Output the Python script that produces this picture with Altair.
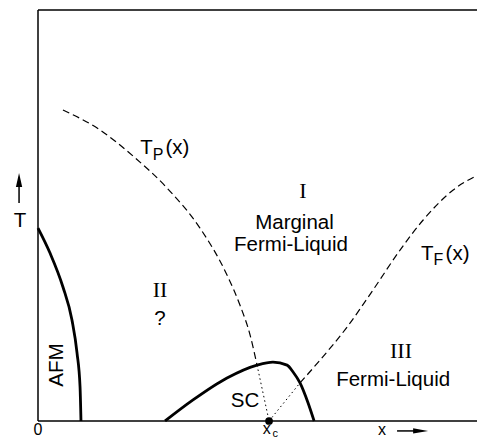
import altair as alt
import pandas as pd

# ---- data (x in units of x_c, T in the same length units) ----
X_MAX = 1.900   # right edge of the drawing
T_MAX = 1.779   # top edge of the drawing

afm_x = [0.0, 0.052, 0.108, 0.147, 0.169, 0.182, 0.186]
afm_T = [0.835, 0.727, 0.580, 0.437, 0.294, 0.147, 0.0]

sc_x = [0.550, 0.671, 0.818, 0.948, 1.017, 1.078, 1.104, 1.134, 1.169, 1.195]
sc_T = [0.0, 0.091, 0.186, 0.242, 0.255, 0.242, 0.212, 0.165, 0.078, 0.0]

tp_x = [0.108, 0.268, 0.411, 0.558, 0.701, 0.818, 0.874, 0.918, 0.948]
tp_T = [1.346, 1.260, 1.147, 1.009, 0.835, 0.632, 0.502, 0.372, 0.242]

tf_x = [1.134, 1.221, 1.338, 1.450, 1.567, 1.667, 1.797, 1.935]
tf_T = [0.165, 0.264, 0.407, 0.567, 0.740, 0.870, 1.000, 1.078]

x_c = 1.0

# annotation labels: text, x, T (baseline), align
sans_labels = [
    ("Marginal", 1.110, 0.829, "center"),
    ("Fermi-Liquid", 1.095, 0.734, "center"),
    ("Fermi-Liquid", 1.537, 0.152, "center"),
    ("?", 0.528, 0.416, "center"),
    ("SC", 0.896, 0.061, "center"),
    ("T", -0.078, 0.840, "center"),
    ("T", 0.442, 1.155, "left"),
    ("(x)", 0.552, 1.155, "left"),
    ("T", 1.658, 0.697, "left"),
    ("(x)", 1.764, 0.697, "left"),
]
bottom_labels = [
    ("0", 0.0, -0.061, "center"),
    ("x", 0.990, -0.056, "center"),
    ("x", 1.489, -0.061, "center"),
]
sub_labels = [
    ("P", 0.497, 1.130, "left"),
    ("F", 1.712, 0.675, "left"),
]
sub_bottom = [("c", 1.015, -0.071, "left")]
serif_labels = [
    ("I", 1.147, 0.965, "center"),
    ("II", 0.528, 0.537, "center"),
    ("III", 1.571, 0.273, "center"),
]
afm_label = [("AFM", 0.108, 0.242, "center")]

xs = alt.Scale(domain=[0, X_MAX], nice=False, zero=False)
ys = alt.Scale(domain=[0, T_MAX], nice=False, zero=False)
X = lambda: alt.X("x:Q", scale=xs, axis=None)
Y = lambda: alt.Y("T:Q", scale=ys, axis=None)


def curve(xv, tv, width, dash=None):
    df = pd.DataFrame({"x": xv, "T": tv})
    kw = dict(color="black", strokeWidth=width, interpolate="monotone")
    if dash:
        kw["strokeDash"] = dash
    return alt.Chart(df).mark_line(**kw).encode(x=X(), y=Y())


def texts(rows, font, size, angle=0):
    layers = []
    for al in ["left", "center", "right"]:
        sub = [r[:3] for r in rows if r[3] == al]
        if not sub:
            continue
        df = pd.DataFrame(sub, columns=["text", "x", "T"])
        kw = dict(font=font, fontSize=size, color="black", align=al, baseline="alphabetic")
        if angle:
            kw["angle"] = angle
        layers.append(alt.Chart(df).mark_text(**kw).encode(x=X(), y=Y(), text="text:N"))
    return layers


frame = pd.DataFrame({
    "x": [0, 0, 0], "x2": [X_MAX, 0, X_MAX],
    "T": [T_MAX, 0, 0], "T2": [T_MAX, T_MAX, 0],
})
frame_layer = alt.Chart(frame).mark_rule(color="black", strokeWidth=1.5).encode(
    x=X(), x2="x2:Q", y=Y(), y2="T2:Q")

dotted1 = curve([tp_x[-1], x_c], [tp_T[-1], 0.0], 1.0, [1.5, 3])
dotted2 = curve([x_c, tf_x[0]], [0.0, tf_T[0]], 1.0, [1.5, 3])

dot = alt.Chart(pd.DataFrame({"x": [x_c], "T": [0.0]})).mark_circle(
    color="black", size=60, opacity=1).encode(x=X(), y=Y())

# arrows (T axis arrow up, x axis arrow right)
shafts = pd.DataFrame({"x": [-0.082, 1.554], "x2": [-0.082, 1.63],
                       "T": [0.944, -0.043], "T2": [1.05, -0.043]})
shaft_layer = alt.Chart(shafts).mark_rule(color="black", strokeWidth=1.5).encode(
    x=X(), x2="x2:Q", y=Y(), y2="T2:Q")
head_up = alt.Chart(pd.DataFrame({"x": [-0.082], "T": [1.043]})).mark_point(
    shape="M0,-1L0.45,1L-0.45,1Z", filled=True, color="black", opacity=1,
    size=196, strokeWidth=0).encode(x=X(), y=Y())
head_right = alt.Chart(pd.DataFrame({"x": [1.656], "T": [-0.043]})).mark_point(
    shape="M1,0L-1,-0.35L-1,0.35Z", filled=True, color="black", opacity=1,
    size=225, strokeWidth=0).encode(x=X(), y=Y())

layers = [
    frame_layer,
    curve(tp_x, tp_T, 1.2, [7, 4]),
    curve(tf_x, tf_T, 1.2, [7, 4]),
    dotted1, dotted2,
    curve(afm_x, afm_T, 2.8),
    curve(sc_x, sc_T, 2.8),
    dot, shaft_layer, head_up, head_right,
]
layers += texts(sans_labels, "Liberation Sans", 20.5)
layers += texts(bottom_labels, "Liberation Sans", 16)
layers += texts(sub_labels, "Liberation Sans", 16)
layers += texts(sub_bottom, "Liberation Sans", 11)
layers += texts(serif_labels, "Liberation Serif", 22)
layers += texts(afm_label, "Liberation Sans", 20.5, angle=270)

chart = alt.layer(*layers).properties(
    width=439, height=411,
    autosize=alt.AutoSizeParams(type="none"),
    padding={"left": 30, "top": 2, "right": 0, "bottom": 18},
).configure_view(stroke=None)

chart.save("out.html", embed_options={"renderer": "svg", "actions": False})
